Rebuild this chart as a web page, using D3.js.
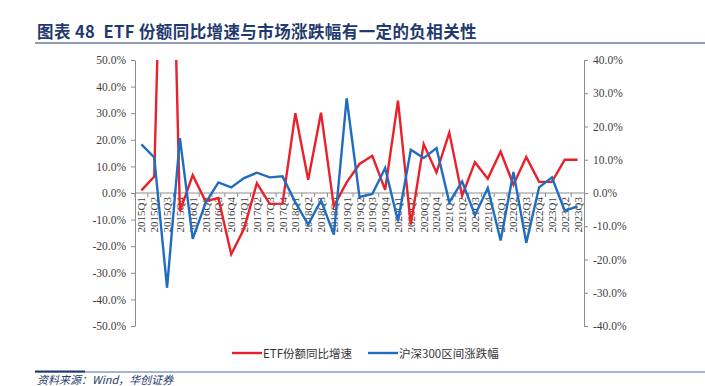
<!DOCTYPE html>
<html>
<head>
<meta charset="utf-8">
<script src="https://cdn.jsdelivr.net/npm/d3@7"></script>
<style>
  body { margin: 0; background: #fff; }
  svg { display: block; }
</style>
</head>
<body>
<div id="chart"></div>
<script>
// Data
const quarters = ["2015Q1","2015Q2","2015Q3","2015Q4","2016Q1","2016Q2","2016Q3","2016Q4",
  "2017Q1","2017Q2","2017Q3","2017Q4","2018Q1","2018Q2","2018Q3","2018Q4",
  "2019Q1","2019Q2","2019Q3","2019Q4","2020Q1","2020Q2","2020Q3","2020Q4",
  "2021Q1","2021Q2","2021Q3","2021Q4","2022Q1","2022Q2","2022Q3","2022Q4",
  "2023Q1","2023Q2","2023Q3"];
// ETF份额同比增速 (left axis, %)
const etfGrowth = [1.0, 6.2, 192, -6.9, 6.7, -3.1, -1.9, -23.0,
  -13.5, 3.7, -4.1, -4.0, 30.0, 5.0, 30.2, -5.0,
  4.0, 10.9, 14.0, 1.2, 34.7, -11.9, 18.4, 7.7,
  22.7, -1.0, 11.6, 5.4, 15.6, 3.1, 13.5, 4.2,
  4.2, 12.5, 12.5];
// 沪深300区间涨跌幅 (right axis, %)
const hs300Change = [14.6, 10.7, -28.5, 16.5, -13.8, -3.0, 3.2, 1.7,
  4.5, 6.1, 4.7, 5.0, -2.8, -9.5, -2.2, -12.5,
  28.5, -1.2, -0.3, 7.5, -8.5, 13.0, 10.5, 13.5,
  -2.8, 3.5, -6.7, 1.5, -14.3, 6.3, -15.0, 1.7,
  4.7, -5.3, -4.0];
const leftTicks = [-50, -40, -30, -20, -10, 0, 10, 20, 30, 40, 50];
const rightTicks = [-40, -30, -20, -10, 0, 10, 20, 30, 40];
const seriesNames = ["ETF份额同比增速", "沪深300区间涨跌幅"];
const titleText = "图表 48  ETF 份额同比增速与市场涨跌幅有一定的负相关性";
const sourceText = "资料来源：Wind，华创证券";

const W = 705, H = 386;
const plot = { left: 135, right: 584, top: 60, bottom: 326 };
const red = "#E8212B", blue = "#1F6CC0", navy = "#1F3A6E", axisGray = "#8c8c8c";
const tickFont = "'Liberation Serif', 'Times New Roman', serif";

const svg = d3.select('#chart').append('svg')
  .attr('width', W).attr('height', H);

// Title and rule
svg.append('text')
  .attr('x', 37).attr('y', 38)
  .attr('fill', navy)
  .style('font-family', "'Noto Sans CJK SC', sans-serif")
  .style('font-weight', 'bold')
  .style('font-size', '16.5px')
  .style('letter-spacing', '0.4px')
  .style('white-space', 'pre')
  .text(titleText);
svg.append('line')
  .attr('x1', 35).attr('x2', W).attr('y1', 43).attr('y2', 43)
  .attr('stroke', navy).attr('stroke-width', 1.2);

// Scales
const x = d3.scaleBand().domain(quarters).range([plot.left, plot.right]);
const cx = d => x(d) + x.bandwidth() / 2;
const yL = d3.scaleLinear().domain([-50, 50]).range([plot.bottom, plot.top]);
const yR = d3.scaleLinear().domain([-40, 40]).range([plot.bottom, plot.top]);

// Left axis
const leftAxis = d3.axisLeft(yL).tickValues(leftTicks)
  .tickFormat(d => d.toFixed(1) + '%').tickSize(4).tickSizeOuter(0).tickPadding(5);
const gL = svg.append('g').attr('transform', `translate(${plot.left},0)`).call(leftAxis);

// Right axis
const rightAxis = d3.axisRight(yR).tickValues(rightTicks)
  .tickFormat(d => d.toFixed(1) + '%').tickSize(4).tickSizeOuter(0).tickPadding(5);
const gR = svg.append('g').attr('transform', `translate(${plot.right},0)`).call(rightAxis);

[gL, gR].forEach(g => {
  g.select('.domain').attr('stroke', axisGray);
  g.selectAll('.tick line').attr('stroke', axisGray);
  g.selectAll('.tick text').attr('fill', '#404040')
    .style('font-family', tickFont).style('font-size', '11.5px');
});

// Category axis on the zero line
const zeroY = yL(0);
const gX = svg.append('g');
gX.append('line')
  .attr('x1', plot.left).attr('x2', plot.right)
  .attr('y1', zeroY).attr('y2', zeroY)
  .attr('stroke', axisGray);
gX.selectAll('line.tk')
  .data(quarters)
  .join('line').attr('class', 'tk')
  .attr('x1', d => x(d)).attr('x2', d => x(d))
  .attr('y1', zeroY).attr('y2', zeroY + 4)
  .attr('stroke', axisGray);
gX.selectAll('text')
  .data(quarters)
  .join('text')
  .attr('transform', d => `translate(${cx(d) + 4},${zeroY + 4}) rotate(-90)`)
  .attr('text-anchor', 'end')
  .attr('fill', '#404040')
  .style('font-family', tickFont)
  .style('font-size', '11px')
  .text(d => d);

// Lines
svg.append('clipPath').attr('id', 'plotClip')
  .append('rect')
  .attr('x', plot.left).attr('y', plot.top)
  .attr('width', plot.right - plot.left).attr('height', plot.bottom - plot.top);

const lineL = d3.line().x((d, i) => cx(quarters[i])).y(d => yL(d));
const lineR = d3.line().x((d, i) => cx(quarters[i])).y(d => yR(d));

svg.append('path')
  .datum(etfGrowth)
  .attr('clip-path', 'url(#plotClip)')
  .attr('d', lineL)
  .attr('fill', 'none').attr('stroke', red).attr('stroke-width', 2.4)
  .attr('stroke-linejoin', 'miter');

svg.append('path')
  .datum(hs300Change)
  .attr('clip-path', 'url(#plotClip)')
  .attr('d', lineR)
  .attr('fill', 'none').attr('stroke', blue).attr('stroke-width', 2.4)
  .attr('stroke-linejoin', 'miter');

// Legend
const legendItems = [
  { name: seriesNames[0], color: red, x: 232 },
  { name: seriesNames[1], color: blue, x: 368 }
];
const legend = svg.append('g');
legend.selectAll('line')
  .data(legendItems)
  .join('line')
  .attr('x1', d => d.x).attr('x2', d => d.x + 30)
  .attr('y1', 353).attr('y2', 353)
  .attr('stroke', d => d.color).attr('stroke-width', 2.4);
legend.selectAll('text')
  .data(legendItems)
  .join('text')
  .attr('x', d => d.x + 31).attr('y', 357.5)
  .attr('fill', '#333')
  .style('font-family', "'Noto Sans CJK SC', sans-serif")
  .style('font-size', '11.5px')
  .text(d => d.name);

// Source line
svg.append('line')
  .attr('x1', 35).attr('x2', W).attr('y1', 372).attr('y2', 372)
  .attr('stroke', '#4a6fa5').attr('stroke-width', 1);
svg.append('line')
  .attr('x1', 35).attr('x2', 85).attr('y1', 371.5).attr('y2', 371.5)
  .attr('stroke', navy).attr('stroke-width', 2);
svg.append('text')
  .attr('x', 37).attr('y', 384)
  .attr('fill', navy)
  .style('font-family', "'Noto Sans CJK SC', sans-serif")
  .style('font-size', '11px')
  .style('font-style', 'italic')
  .text(sourceText);
</script>
</body>
</html>
